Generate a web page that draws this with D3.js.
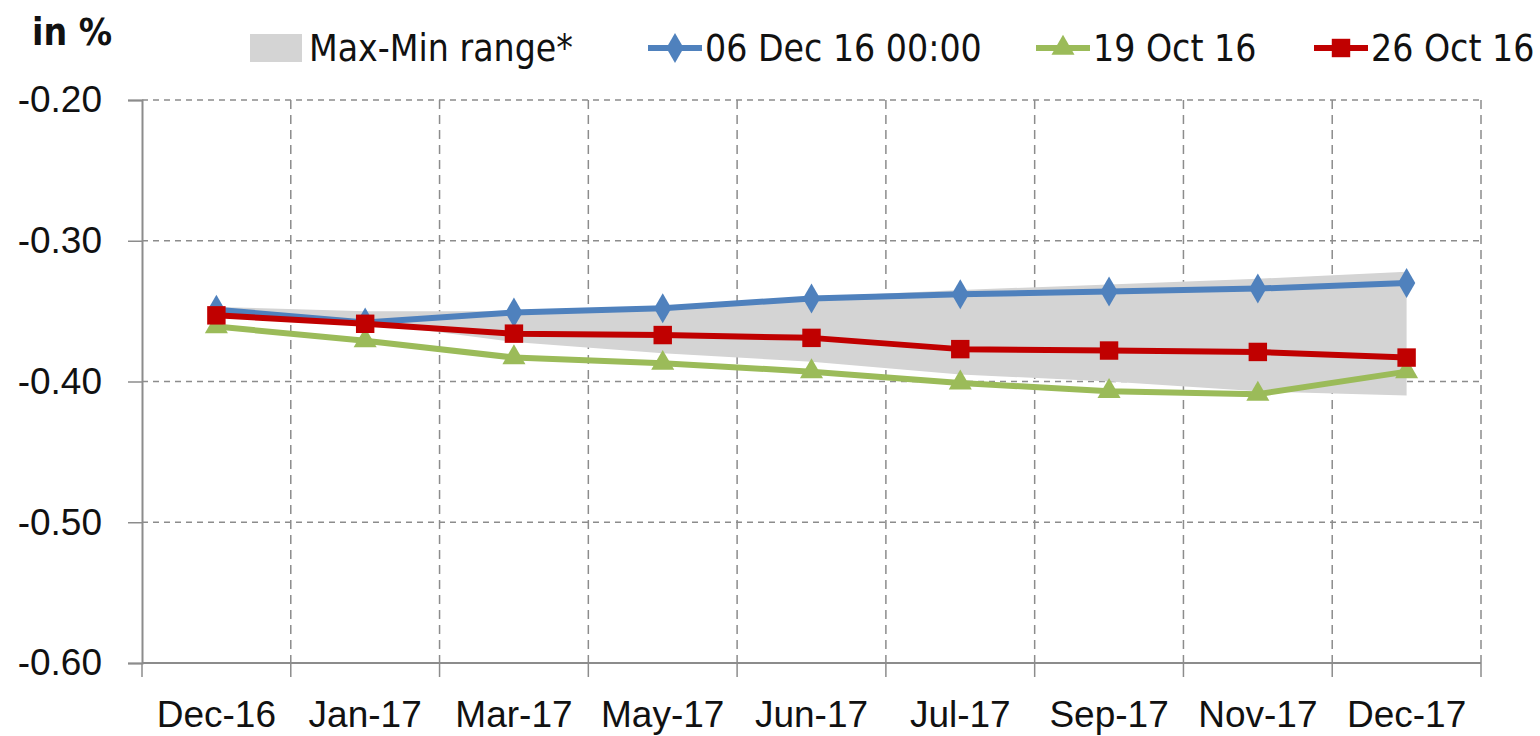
<!DOCTYPE html>
<html>
<head>
<meta charset="utf-8">
<script src="https://cdn.jsdelivr.net/npm/d3@7"></script>
<style>
  html, body { margin: 0; padding: 0; background: #fff; }
  svg { display: block; font-family: "Liberation Sans Narrow", "DejaVu Sans Condensed", "Open Sans", sans-serif; }
</style>
</head>
<body>
<div id="chart"></div>
<script>
const categories = ['Dec-16', 'Jan-17', 'Mar-17', 'May-17', 'Jun-17', 'Jul-17', 'Sep-17', 'Nov-17', 'Dec-17'];
const yTicks = [-0.60, -0.50, -0.40, -0.30, -0.20];
const rangeMax = [-0.347, -0.350, -0.350, -0.347, -0.340, -0.335, -0.331, -0.327, -0.322];
const rangeMin = [-0.352, -0.358, -0.372, -0.380, -0.386, -0.395, -0.400, -0.407, -0.410];
const dec06 = [-0.349, -0.358, -0.351, -0.348, -0.341, -0.338, -0.336, -0.334, -0.330];
const oct19 = [-0.361, -0.371, -0.383, -0.387, -0.393, -0.401, -0.407, -0.409, -0.393];
const oct26 = [-0.353, -0.359, -0.366, -0.367, -0.369, -0.377, -0.378, -0.379, -0.383];

const W = 1540, H = 736;
const margin = { top: 100, right: 59, bottom: 73, left: 142 };
const width = W - margin.left - margin.right;
const height = H - margin.top - margin.bottom;
const FS = 37;

const svg = d3.select('#chart').append('svg')
    .attr('width', W).attr('height', H);

const g = svg.append('g').attr('transform', `translate(${margin.left},${margin.top})`);

const x = d3.scaleBand().domain(categories).range([0, width]).padding(0);
const cx = c => x(c) + x.bandwidth() / 2;
const y = d3.scaleLinear().domain([-0.60, -0.20]).range([height, 0]);

// horizontal grid
g.append('g').selectAll('line')
    .data(yTicks.filter(v => v > -0.6))
    .enter().append('line')
    .attr('x1', 0).attr('x2', width)
    .attr('y1', d => y(d)).attr('y2', d => y(d))
    .attr('stroke', '#8c8c8c').attr('stroke-width', 1.5)
    .attr('stroke-dasharray', '6,5');

// vertical grid at category boundaries
const bounds = categories.slice(1).map(c => x(c)).concat([width]);
g.append('g').selectAll('line')
    .data(bounds)
    .enter().append('line')
    .attr('x1', d => d).attr('x2', d => d)
    .attr('y1', 0).attr('y2', height)
    .attr('stroke', '#8c8c8c').attr('stroke-width', 1.5)
    .attr('stroke-dasharray', '9,6');

// Max-Min range area
const rangeData = categories.map((c, i) => ({ c, hi: rangeMax[i], lo: rangeMin[i] }));
g.append('path')
    .datum(rangeData)
    .attr('fill', '#d4d4d4')
    .attr('d', d3.area().x(d => cx(d.c)).y0(d => y(d.lo)).y1(d => y(d.hi)));

// axes
const yAxis = g.append('g')
    .call(d3.axisLeft(y).tickValues(yTicks).tickSize(14).tickPadding(26)
        .tickFormat(d => d.toFixed(2)));
const xAxis = g.append('g')
    .attr('transform', `translate(0,${height})`)
    .call(d3.axisBottom(x).tickSize(0).tickPadding(38));
[yAxis, xAxis].forEach(a => {
    a.select('.domain').attr('stroke', '#8c8c8c').attr('stroke-width', 2);
    a.selectAll('.tick line').attr('stroke', '#8c8c8c').attr('stroke-width', 1.5);
    a.selectAll('text').attr('font-size', FS).attr('fill', '#111')
        .style('font-family', 'inherit');
});
xAxis.select('.domain').remove();
g.append('line')
    .attr('x1', 0).attr('x2', width).attr('y1', height).attr('y2', height)
    .attr('stroke', '#8c8c8c').attr('stroke-width', 2);
g.append('g').selectAll('line')
    .data([0].concat(bounds))
    .enter().append('line')
    .attr('x1', d => d).attr('x2', d => d)
    .attr('y1', height).attr('y2', height + 14)
    .attr('stroke', '#8c8c8c').attr('stroke-width', 1.5);
xAxis.selectAll('text').attr('dy', '0.71em');

// series
const series = [
    { name: '06 Dec 16 00:00', values: dec06, color: '#4f81bd', marker: d3.symbolDiamond, size: 260 },
    { name: '19 Oct 16', values: oct19, color: '#9bbb59', marker: d3.symbolTriangle, size: 230 },
    { name: '26 Oct 16', values: oct26, color: '#c00000', marker: d3.symbolSquare, size: 340 }
];
const line = d3.line().x(d => cx(d.c)).y(d => y(d.v));

series.forEach(s => {
    const data = categories.map((c, i) => ({ c, v: s.values[i] }));
    g.append('path')
        .datum(data)
        .attr('fill', 'none')
        .attr('stroke', s.color)
        .attr('stroke-width', 6)
        .attr('stroke-linejoin', 'round')
        .attr('d', line);
    g.selectAll(null)
        .data(data)
        .enter().append('path')
        .attr('transform', d => `translate(${cx(d.c)},${y(d.v)})`)
        .attr('d', d3.symbol().type(s.marker).size(s.size))
        .attr('fill', s.color);
});

// unit label
svg.append('text')
    .attr('x', 32).attr('y', 45)
    .attr('font-size', FS).attr('font-weight', 'bold').attr('fill', '#111')
    .text('in %');

// legend
const legend = svg.append('g').attr('transform', 'translate(0,48)');
legend.append('rect')
    .attr('x', 250).attr('y', -14).attr('width', 52).attr('height', 28)
    .attr('fill', '#d4d4d4');
legend.append('text')
    .attr('x', 309).attr('y', 0).attr('dy', '0.35em')
    .attr('font-size', FS).attr('fill', '#111')
    .text('Max-Min range*');

const legendX = [648, 1036, 1314];
series.forEach((s, i) => {
    const lx = legendX[i];
    legend.append('line')
        .attr('x1', lx).attr('x2', lx + 54)
        .attr('y1', 0).attr('y2', 0)
        .attr('stroke', s.color).attr('stroke-width', 6);
    legend.append('path')
        .attr('transform', `translate(${lx + 27},0)`)
        .attr('d', d3.symbol().type(s.marker).size(s.size))
        .attr('fill', s.color);
    legend.append('text')
        .attr('x', lx + 57).attr('y', 0).attr('dy', '0.35em')
        .attr('font-size', FS).attr('fill', '#111')
        .text(s.name);
});
</script>
</body>
</html>
